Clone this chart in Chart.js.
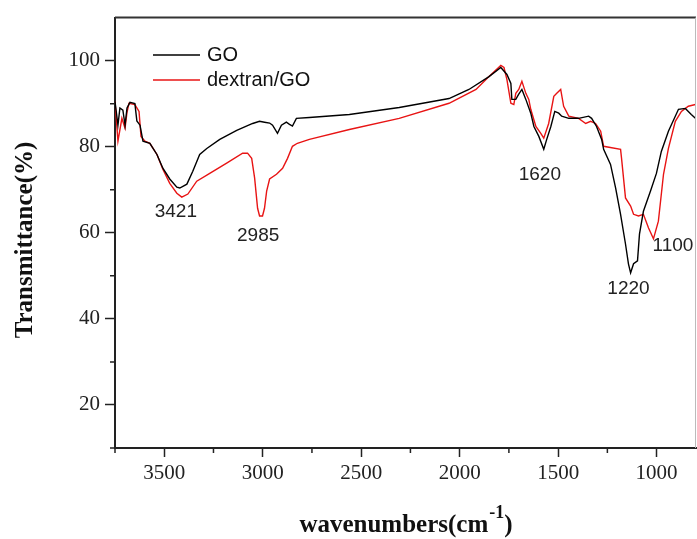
<!DOCTYPE html>
<html lang="en">
  <head>
    <meta charset="UTF-8" />
    <title>FTIR spectra</title>
    <script src="https://cdn.jsdelivr.net/npm/chart.js"></script>
    <style>
      body { margin: 0; background: #fff; }
    </style>
  </head>
  <body>
    <canvas id="ftir" width="697" height="539"></canvas>

    <script>
      // GO spectrum, wavenumber (cm-1) and transmittance (%)
      const goWave = [3750, 3735, 3725, 3710, 3699, 3689, 3674, 3649, 3639, 3623, 3608, 3573, 3537, 3507, 3472, 3436, 3421, 3385, 3355, 3320, 3284, 3218, 3132, 3051, 3016, 2991, 2965, 2950, 2925, 2905, 2880, 2864, 2849, 2829, 2763, 2560, 2307, 2054, 1953, 1851, 1791, 1760, 1740, 1735, 1715, 1700, 1684, 1664, 1639, 1623, 1598, 1573, 1558, 1537, 1517, 1497, 1482, 1446, 1396, 1345, 1330, 1305, 1279, 1269, 1234, 1208, 1183, 1158, 1143, 1132, 1117, 1097, 1087, 1067, 1031, 1001, 976, 940, 889, 854, 824, 803];
      const goT = [90.5, 85, 89, 88.5, 85, 89, 90.3, 90, 86, 85, 81.3, 80.8, 78.2, 75, 72.5, 70.6, 70.4, 71.3, 74.3, 78.2, 79.6, 81.7, 83.8, 85.4, 85.9, 85.7, 85.5, 85, 83.1, 85, 85.7, 85.2, 84.8, 86.6, 86.8, 87.5, 89.1, 91.2, 93.3, 96.3, 98.4, 96.8, 94.7, 91, 91, 92.2, 93.3, 91, 87.8, 84.7, 82.4, 79.4, 81.7, 84.7, 88.2, 87.8, 87.1, 86.6, 86.6, 87.1, 86.6, 84.7, 81.7, 79.4, 75.9, 70.4, 64.3, 57.4, 52.8, 50.7, 52.8, 53.5, 59.7, 65, 69.7, 73.8, 78.9, 83.6, 88.7, 88.9, 87.5, 86.6];

      // dextran/GO spectrum
      const dexWave = [3750, 3735, 3715, 3699, 3689, 3679, 3649, 3628, 3618, 3598, 3573, 3537, 3507, 3472, 3436, 3411, 3380, 3335, 3269, 3183, 3102, 3077, 3056, 3041, 3026, 3016, 3001, 2991, 2980, 2965, 2930, 2899, 2874, 2849, 2824, 2763, 2560, 2307, 2054, 1917, 1851, 1791, 1775, 1760, 1740, 1725, 1715, 1700, 1684, 1664, 1649, 1639, 1613, 1588, 1573, 1548, 1522, 1507, 1487, 1472, 1446, 1396, 1360, 1335, 1310, 1284, 1269, 1183, 1178, 1158, 1132, 1117, 1092, 1067, 1041, 1016, 991, 965, 940, 905, 874, 839, 803];
      const dexT = [90.5, 81.3, 86.6, 84.3, 88, 90.1, 89.8, 88.2, 82.4, 81.3, 80.8, 78.2, 74.8, 71.5, 69.2, 68.3, 69, 72, 73.8, 76.2, 78.5, 78.5, 77.3, 72.7, 65.7, 63.9, 63.9, 65.7, 69.7, 72.5, 73.6, 75, 77.3, 80.1, 80.8, 81.7, 84, 86.6, 90.1, 93.3, 96.3, 98.9, 98.4, 95.6, 90.1, 89.8, 92.4, 93.3, 95.2, 92.4, 91, 88.7, 84.7, 83.1, 82, 85.4, 91.7, 92.4, 93.3, 89.4, 87.1, 86.6, 85.4, 85.9, 85.4, 83.6, 80.1, 79.4, 77.3, 68.1, 66.2, 64.3, 63.9, 64.3, 61.1, 58.6, 62.7, 73.6, 79.6, 85.9, 88.2, 89.4, 89.8];

      // tick values
      const xMajor = [3500, 3000, 2500, 2000, 1500, 1000];
      const xMinor = [3750, 3250, 2750, 2250, 1750, 1250];
      const yMajor = [20, 40, 60, 80, 100];
      const yMinor = [10, 30, 50, 70, 90];

      // peak labels
      const peakText = ["3421", "2985", "1620", "1220", "1100"];
      const peakX = [3441, 3023, 1593, 1143, 917];
      const peakY = [64.8, 59.2, 73.4, 47.0, 56.9];

      const serif = "'Liberation Serif', 'Times New Roman', serif";
      const sans = "'Liberation Sans', Arial, sans-serif";
      const ink = "#222";

      function pairs(xs, ys) {
        return xs.map((x, i) => ({ x: x, y: ys[i] }));
      }

      const decor = {
        id: "decor",
        afterDraw(chart) {
          const c = chart.ctx;
          const a = chart.chartArea;
          const xs = chart.scales.x;
          const ys = chart.scales.y;
          c.save();

          // top and right frame
          c.strokeStyle = "#333";
          c.lineWidth = 2;
          c.beginPath();
          c.moveTo(a.left, a.top);
          c.lineTo(a.right, a.top);
          c.stroke();
          c.strokeStyle = "#bbb";
          c.lineWidth = 1;
          c.beginPath();
          c.moveTo(a.right - 0.5, a.top);
          c.lineTo(a.right - 0.5, a.bottom);
          c.stroke();

          // minor ticks
          c.strokeStyle = ink;
          c.lineWidth = 1.5;
          c.beginPath();
          xMinor.forEach((v) => {
            const px = xs.getPixelForValue(v);
            c.moveTo(px, a.bottom);
            c.lineTo(px, a.bottom + 5);
          });
          yMinor.forEach((v) => {
            const py = ys.getPixelForValue(v);
            c.moveTo(a.left, py);
            c.lineTo(a.left - 5, py);
          });
          c.stroke();

          // legend
          c.font = "20px " + sans;
          c.textBaseline = "middle";
          c.textAlign = "left";
          chart.data.datasets.forEach((ds, i) => {
            const y = 55 + i * 25;
            c.strokeStyle = ds.borderColor;
            c.lineWidth = 1.5;
            c.beginPath();
            c.moveTo(153, y);
            c.lineTo(200, y);
            c.stroke();
            c.fillStyle = "#111";
            c.fillText(ds.label, 207, y);
          });

          // peak labels
          c.font = "19px " + sans;
          c.textAlign = "center";
          c.fillStyle = ink;
          peakText.forEach((t, i) => {
            c.fillText(t, xs.getPixelForValue(peakX[i]), ys.getPixelForValue(peakY[i]));
          });

          // axis titles
          c.fillStyle = "#111";
          c.textBaseline = "alphabetic";
          c.textAlign = "left";
          const main = "wavenumbers(cm";
          c.font = "bold 25px " + serif;
          const w1 = c.measureText(main).width;
          c.font = "bold 18px " + serif;
          const w2 = c.measureText("-1").width;
          c.font = "bold 25px " + serif;
          const w3 = c.measureText(")").width;
          let x0 = (a.left + a.right) / 2 - (w1 + w2 + w3) / 2;
          c.fillText(main, x0, 532);
          c.font = "bold 18px " + serif;
          c.fillText("-1", x0 + w1 + 1, 518);
          c.font = "bold 25px " + serif;
          c.fillText(")", x0 + w1 + w2 + 1, 532);

          c.translate(26, 240);
          c.rotate(-Math.PI / 2);
          c.textAlign = "center";
          c.textBaseline = "middle";
          c.fillText("Transmittance(%)", 0, 0);
          c.restore();
        },
      };

      new Chart(document.getElementById("ftir"), {
        type: "line",
        data: {
          datasets: [
            {
              label: "GO",
              data: pairs(goWave, goT),
              borderColor: "#000",
              borderWidth: 1.4,
              pointRadius: 0,
              tension: 0,
            },
            {
              label: "dextran/GO",
              data: pairs(dexWave, dexT),
              borderColor: "rgb(232, 20, 20)",
              borderWidth: 1.4,
              pointRadius: 0,
              tension: 0,
            },
          ],
        },
        options: {
          responsive: false,
          animation: false,
          layout: { padding: { top: 16, right: 1, left: 0, bottom: 0 } },
          plugins: { legend: { display: false }, tooltip: { enabled: false } },
          scales: {
            x: {
              type: "linear",
              reverse: true,
              min: 800,
              max: 3750,
              afterBuildTicks: (s) => {
                s.ticks = xMajor.map((v) => ({ value: v }));
              },
              afterFit: (s) => {
                s.height = 91;
              },
              ticks: {
                font: { family: serif, size: 21 },
                color: ink,
                padding: 4,
                maxRotation: 0,
                callback: (v) => String(v),
              },
              grid: { drawOnChartArea: false, tickLength: 9, color: ink, tickWidth: 1.5 },
              border: { color: ink, width: 2 },
            },
            y: {
              min: 10,
              max: 110,
              afterBuildTicks: (s) => {
                s.ticks = yMajor.map((v) => ({ value: v }));
              },
              afterFit: (s) => {
                s.width = 115;
              },
              ticks: { font: { family: serif, size: 21 }, color: ink, padding: 5, callback: (v) => String(v) },
              grid: { drawOnChartArea: false, tickLength: 10, color: ink, tickWidth: 1.5 },
              border: { color: ink, width: 2 },
            },
          },
        },
        plugins: [decor],
      });
    </script>
  </body>
</html>
